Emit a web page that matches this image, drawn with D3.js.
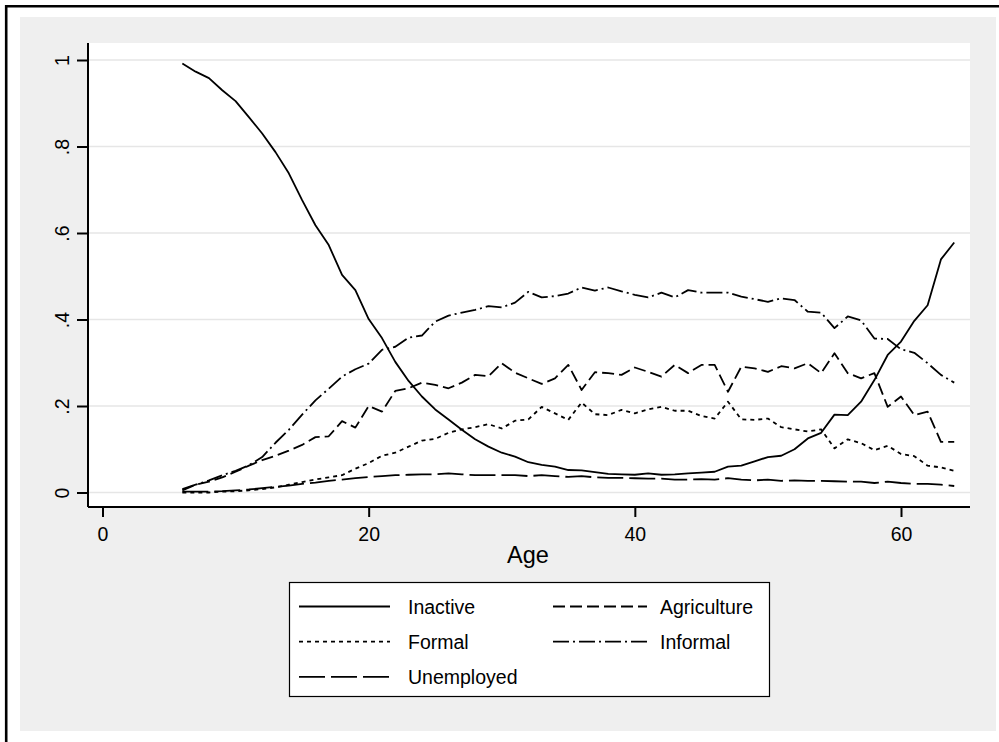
<!DOCTYPE html>
<html><head><meta charset="utf-8">
<script src="https://cdn.jsdelivr.net/npm/d3@7"></script>
<style>body{margin:0;background:#fff}svg{display:block}text{font-family:"Liberation Sans",Arial,sans-serif;fill:#000}</style>
</head><body><svg id="c" width="999" height="742"></svg>
<script>
const ages = d3.range(6, 65);
const inactive = [0.992,0.973,0.958,0.93,0.905,0.868,0.83,0.787,0.738,0.676,0.618,0.572,0.503,0.468,0.401,0.357,0.302,0.258,0.222,0.192,0.169,0.145,0.123,0.106,0.092,0.083,0.07,0.064,0.06,0.052,0.051,0.047,0.043,0.042,0.041,0.044,0.041,0.042,0.044,0.046,0.048,0.06,0.062,0.072,0.082,0.085,0.1,0.125,0.138,0.18,0.179,0.21,0.26,0.318,0.349,0.397,0.433,0.539,0.578];
const agriculture = [0.005,0.018,0.025,0.035,0.048,0.062,0.075,0.085,0.097,0.11,0.128,0.13,0.165,0.15,0.2,0.187,0.235,0.241,0.254,0.249,0.241,0.254,0.272,0.269,0.299,0.277,0.264,0.251,0.264,0.295,0.237,0.278,0.276,0.272,0.289,0.279,0.268,0.295,0.276,0.295,0.295,0.233,0.291,0.287,0.279,0.292,0.287,0.299,0.276,0.322,0.276,0.264,0.276,0.198,0.222,0.179,0.187,0.117,0.117];
const formal = [0,0,0,0.002,0.003,0.005,0.008,0.012,0.018,0.024,0.03,0.035,0.04,0.055,0.068,0.085,0.092,0.106,0.12,0.124,0.138,0.146,0.151,0.158,0.148,0.166,0.169,0.198,0.183,0.168,0.208,0.181,0.179,0.191,0.183,0.192,0.198,0.189,0.189,0.177,0.171,0.21,0.169,0.168,0.171,0.151,0.146,0.141,0.146,0.102,0.123,0.114,0.098,0.108,0.089,0.084,0.062,0.058,0.05];
const informal = [0.008,0.018,0.028,0.04,0.05,0.063,0.082,0.115,0.145,0.18,0.213,0.24,0.268,0.285,0.298,0.33,0.337,0.358,0.363,0.395,0.409,0.416,0.422,0.431,0.428,0.439,0.464,0.451,0.454,0.46,0.474,0.467,0.474,0.465,0.457,0.451,0.462,0.451,0.468,0.462,0.462,0.462,0.453,0.447,0.441,0.449,0.445,0.418,0.416,0.38,0.407,0.398,0.356,0.355,0.331,0.323,0.299,0.272,0.254];
const unemployed = [0.002,0.002,0.002,0.003,0.005,0.007,0.01,0.013,0.016,0.02,0.023,0.027,0.03,0.033,0.036,0.038,0.04,0.041,0.042,0.042,0.044,0.042,0.04,0.04,0.04,0.04,0.038,0.04,0.038,0.036,0.038,0.035,0.034,0.034,0.033,0.032,0.032,0.03,0.03,0.031,0.03,0.033,0.03,0.028,0.03,0.027,0.028,0.027,0.027,0.026,0.025,0.025,0.022,0.025,0.022,0.02,0.02,0.018,0.015];
const seriesNames = ["Inactive","Agriculture","Formal","Informal","Unemployed"];
const xTicks = [0,20,40,60];
const yTicks = [0,0.2,0.4,0.6,0.8,1];
const yTickLabels = ["0",".2",".4",".6",".8","1"];
const xTitle = "Age";

const dashes = {"Inactive":null,"Agriculture":"12,5","Formal":"4,4","Informal":"16,4,2,4","Unemployed":"26,6"};
const seriesData = {"Inactive":inactive,"Agriculture":agriculture,"Formal":formal,"Informal":informal,"Unemployed":unemployed};

const svg = d3.select("#c");
// frame
svg.append("rect").attr("x",20).attr("y",17).attr("width",976).attr("height",714).attr("fill","#efefef");
svg.append("line").attr("x1",6.2).attr("x2",6.2).attr("y1",5).attr("y2",742).attr("stroke","#000").attr("stroke-width",2.6);
svg.append("line").attr("x1",5).attr("x2",999).attr("y1",6.2).attr("y2",6.2).attr("stroke","#000").attr("stroke-width",2.6);

const L=88, R=970, T=43, B=507;
svg.append("rect").attr("x",L).attr("y",T).attr("width",R-L).attr("height",B-T).attr("fill","#fff");

const x = d3.scaleLinear().domain([0,60]).range([102.5,901]);
const y = d3.scaleLinear().domain([0,1]).range([492.5,60]);

// grid
svg.append("g").selectAll("line").data(yTicks).join("line")
  .attr("x1",L).attr("x2",R).attr("y1",d=>y(d)).attr("y2",d=>y(d))
  .attr("stroke","#e6e6e6").attr("stroke-width",1.6);

// series
const line = d3.line().x((d,i)=>x(ages[i])).y(d=>y(d));
seriesNames.forEach(n=>{
  svg.append("path").datum(seriesData[n]).attr("d",line)
    .attr("fill","none").attr("stroke","#000").attr("stroke-width",1.8)
    .attr("stroke-linejoin","round")
    .attr("stroke-dasharray",dashes[n]);
});

// axes
const ya = svg.append("g").attr("transform",`translate(${L},0)`)
  .call(d3.axisLeft(y).tickValues(yTicks).tickSize(11).tickPadding(14).tickFormat((d,i)=>yTickLabels[i]));
ya.select(".domain").attr("d",`M0,${T}V${B}`).attr("stroke-width",2);
ya.selectAll(".tick line").attr("stroke-width",2);
ya.selectAll(".tick text").attr("font-size",19.5).attr("font-family",null)
  .attr("transform","rotate(-90)").attr("x",0).attr("y",-19).attr("dy","0").attr("text-anchor","middle");

const xa = svg.append("g").attr("transform",`translate(0,${B})`)
  .call(d3.axisBottom(x).tickValues(xTicks).tickSize(10).tickPadding(8).tickFormat(d3.format("d")));
xa.select(".domain").attr("d",`M${L},0H${R}`).attr("stroke-width",2);
xa.selectAll(".tick line").attr("stroke-width",2);
xa.selectAll(".tick text").attr("font-size",19.5).attr("font-family",null).attr("y",33.5).attr("dy","0");

svg.append("text").attr("x",(L+R)/2-1).attr("y",562.5).attr("text-anchor","middle").attr("font-size",23.5).text(xTitle);

// legend
const lg = svg.append("g");
lg.append("rect").attr("x",289.5).attr("y",582.5).attr("width",480).attr("height",114).attr("fill","#fff").attr("stroke","#000").attr("stroke-width",1.2);
const pos = [[0,0],[1,0],[0,1],[1,1],[0,2]];
const colX=[[299,390,408],[553,647,660]];
seriesNames.forEach((n,i)=>{
  const [c,r]=pos[i]; const cy=606.5+r*35.2;
  lg.append("line").attr("x1",colX[c][0]).attr("x2",colX[c][1]).attr("y1",cy).attr("y2",cy)
    .attr("stroke","#000").attr("stroke-width",1.8).attr("stroke-dasharray",dashes[n]);
  lg.append("text").attr("x",colX[c][2]).attr("y",cy+7).attr("font-size",19.5).text(n);
});
</script></body></html>
